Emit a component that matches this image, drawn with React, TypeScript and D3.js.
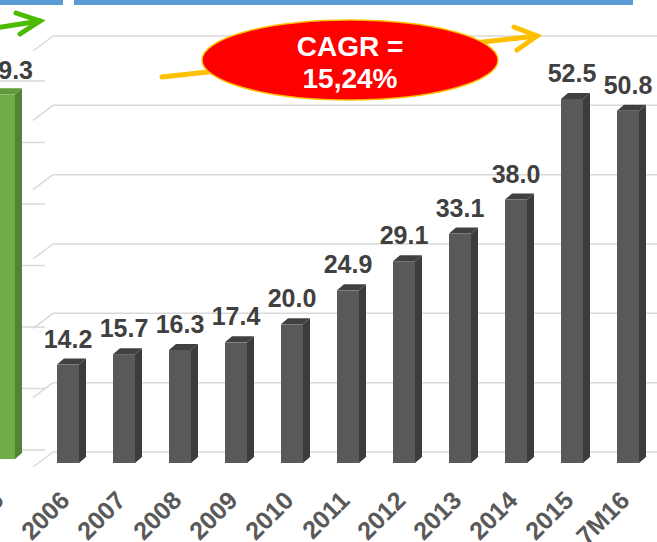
import React from 'react';
import * as d3 from 'd3';

const categories = ['2006', '2007', '2008', '2009', '2010', '2011', '2012', '2013', '2014', '2015', '7M16'];
const values = [14.2, 15.7, 16.3, 17.4, 20.0, 24.9, 29.1, 33.1, 38.0, 52.5, 50.8];
const gridTicks = [0, 10, 20, 30, 40, 50, 60];

const leftCategories = ['2005'];
const leftValues = [59.3];
const leftGridTicks = [0, 10, 20, 30, 40, 50, 60];

const cagrLines = ['CAGR =', '15,24%'];

const W = 657;
const H = 542;
const FONT = '"Liberation Sans", Arial, sans-serif';

export default function App() {
  // right chart scales
  const x = d3.scaleBand<string>().domain(categories).range([40, 656]).padding(0);
  const y = d3.scaleLinear().domain([0, 60]).range([463, 47]);
  const barW = 22;
  const dx = 7;
  const dy = 6;

  // left (partially visible) chart scales
  const xl = d3.scaleBand<string>().domain(leftCategories).range([-24, 32]).padding(0);
  const yl = d3.scaleLinear().domain([0, 60]).range([459, 90]);

  const fmt = d3.format('.1f');

  const arrowO = d3.line()([[162, 77], [537, 36]]);
  const arrowOHead = d3.line()([[514, 27], [537, 36], [517, 50]]);
  const arrowG = d3.line()([[-5, 28], [40, 21]]);
  const arrowGHead = d3.line()([[16, 13], [40, 21], [20, 34]]);

  return (
    <svg
      width={W}
      height={H}
      style={{ position: 'absolute', left: 0, top: 0, background: '#fff' }}
      fontFamily={FONT}
    >
      {/* top blue bars */}
      <rect x={0} y={0} width={63} height={5} fill="#5b9bd5" />
      <rect x={74} y={0} width={559} height={5} fill="#5b9bd5" />

      {/* left chart gridlines */}
      {leftGridTicks.map((t) => (
        <line key={'lg' + t} x1={0} x2={45} y1={yl(t) - 9} y2={yl(t) - 9} stroke="#d9d9d9" strokeWidth={1.5} />
      ))}

      {/* left chart bar */}
      {leftCategories.map((c, i) => {
        const cx = (xl(c) as number) + xl.bandwidth() / 2;
        const x0 = cx - barW / 2;
        const yt = yl(leftValues[i]);
        const yb = yl(0);
        return (
          <g key={'lb' + c}>
            <polygon
              points={`${x0 + barW},${yt} ${x0 + barW + dx},${yt - dy} ${x0 + barW + dx},${yb - dy} ${x0 + barW},${yb}`}
              fill="#548235"
            />
            <polygon
              points={`${x0},${yt} ${x0 + dx},${yt - dy} ${x0 + barW + dx},${yt - dy} ${x0 + barW},${yt}`}
              fill="#5f9a3a"
            />
            <rect x={x0} y={yt} width={barW} height={yb - yt} fill="#70ad47" />
            <text x={cx + 29} y={yt - 15} textAnchor="end" fontSize={25} fontWeight="bold" fill="#404040">
              {fmt(leftValues[i])}
            </text>
            <text
              transform={`translate(${cx + 1},502) rotate(-45)`}
              textAnchor="end"
              fontSize={25}
              fontWeight="bold"
              fill="#595959"
            >
              {c}
            </text>
          </g>
        );
      })}

      {/* right chart gridlines (back wall + side wall diagonal) */}
      {gridTicks.map((t) => (
        <g key={'g' + t}>
          <line x1={53} x2={W} y1={y(t) - 11} y2={y(t) - 11} stroke="#d9d9d9" strokeWidth={1.5} />
          <line x1={33} x2={53} y1={y(t) + 4} y2={y(t) - 11} stroke="#d9d9d9" strokeWidth={1.5} />
        </g>
      ))}

      {/* right chart bars */}
      {categories.map((c, i) => {
        const cx = (x(c) as number) + x.bandwidth() / 2;
        const x0 = cx - barW / 2;
        const yt = y(values[i]);
        const yb = y(0);
        return (
          <g key={'b' + c}>
            <polygon
              points={`${x0 + barW},${yt} ${x0 + barW + dx},${yt - dy} ${x0 + barW + dx},${yb - dy} ${x0 + barW},${yb}`}
              fill="#3c3c3c"
            />
            <polygon
              points={`${x0},${yt} ${x0 + dx},${yt - dy} ${x0 + barW + dx},${yt - dy} ${x0 + barW},${yt}`}
              fill="#404040"
            />
            <rect x={x0} y={yt} width={barW} height={yb - yt} fill="#595959" />
            <text x={cx} y={yt - 17} textAnchor="middle" fontSize={25} fontWeight="bold" fill="#404040">
              {fmt(values[i])}
            </text>
            <text
              transform={`translate(${cx + 3},502) rotate(-45)`}
              textAnchor="end"
              fontSize={25}
              fontWeight="bold"
              fill="#595959"
            >
              {c}
            </text>
          </g>
        );
      })}

      {/* green arrow */}
      <path d={arrowG as string} stroke="#4cbb00" strokeWidth={5} fill="none" strokeLinecap="round" />
      <path d={arrowGHead as string} stroke="#4cbb00" strokeWidth={5} fill="none" strokeLinecap="round" strokeLinejoin="miter" />

      {/* orange arrow */}
      <path d={arrowO as string} stroke="#ffc000" strokeWidth={5} fill="none" strokeLinecap="round" />
      <path d={arrowOHead as string} stroke="#ffc000" strokeWidth={5} fill="none" strokeLinecap="round" strokeLinejoin="miter" />

      {/* CAGR ellipse */}
      <ellipse cx={350} cy={60} rx={148} ry={40} fill="#ff0000" stroke="#ffc000" strokeWidth={1.5} />
      {cagrLines.map((s, i) => (
        <text key={s} x={350} y={56 + i * 32} textAnchor="middle" fontSize={28} fontWeight="bold" fill="#ffffff">
          {s}
        </text>
      ))}
    </svg>
  );
}
